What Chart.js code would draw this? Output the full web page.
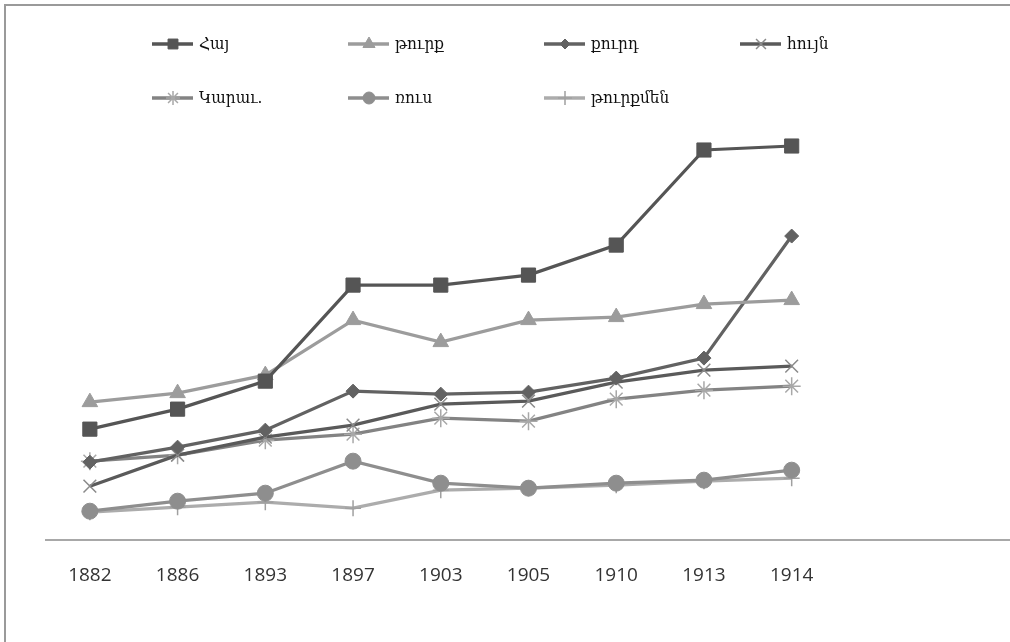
<!DOCTYPE html>
<html>
<head>
<meta charset="utf-8">
<script src="https://cdn.jsdelivr.net/npm/chart.js@4"></script>
<style>
  html,body{margin:0;padding:0;background:#fff;}
  #wrap{position:relative;width:1010px;height:642px;overflow:hidden;}
  #frame{position:absolute;left:4px;top:4px;width:1100px;height:700px;border-top:2px solid #9a9a9a;border-left:2px solid #9a9a9a;}
  canvas{position:absolute;left:0;top:0;}
</style>
</head>
<body>
<div id="wrap">
  <div id="frame"></div>
  <canvas id="c" width="1022" height="642"></canvas>
</div>
<script>
// ============ DATA ============
const years = ['1882','1886','1893','1897','1903','1905','1910','1913','1914'];
const names = ['Հայ','թուրք','քուրդ','հույն','Կարաւ.','ռուս','թուրքմեն'];

const hay      = [111,131,159,255,255,265,295,390,394];
const turq     = [138,147,165,220,198,220,223,236,240];
const qurd     = [ 78, 93,110,149,146,148,162,182,304];
const huyn     = [ 54, 85,103,115,136,139,158,170,174];
const karav    = [ 79, 85,100,106,122,119,141,150,154];
const rus      = [ 29, 39, 47, 79, 57, 52, 57, 60, 70];
const turqmen  = [ 28, 33, 38, 32, 50, 52, 55, 59, 62];

// two empty slots on the right, the plot runs on past the last year
const labels = years.concat(['','']);

const styles = [
  {line:'#555555', fill:'#555555', pt:'rect',      r:10, lr:7},
  {line:'#9c9c9c', fill:'#9c9c9c', pt:'triangle',  r:9,  lr:7},
  {line:'#626262', fill:'#626262', pt:'rectRot',   r:7,  lr:5},
  {line:'#5a5a5a', fill:'#5a5a5a', pt:'crossRot',  r:9,  lr:7, pb:'#8a8a8a'},
  {line:'#838383', fill:'#838383', pt:'star',      r:9,  lr:7, pb:'#a8a8a8'},
  {line:'#8e8e8e', fill:'#8e8e8e', pt:'circle',    r:8,  lr:6},
  {line:'#acacac', fill:'#acacac', pt:'cross',     r:8,  lr:7, pb:'#a0a0a0'}
];
const series = [hay, turq, qurd, huyn, karav, rus, turqmen];

const datasets = series.map((d,i)=>({
  label:names[i], data:d,
  borderColor:styles[i].line, backgroundColor:styles[i].fill, borderWidth:3.2,
  pointStyle:styles[i].pt, pointRadius:styles[i].r,
  pointBackgroundColor:styles[i].fill, pointBorderColor:styles[i].pb||styles[i].fill,
  pointBorderWidth:styles[i].pb?1.5:1, tension:0
}));

// legend laid out in a fixed grid like the original
const legendPos = [[152,44],[348,44],[544,44],[740,44],[152,98],[348,98],[544,98]];
const gridLegend = {
  id:'gridLegend',
  afterDraw(chart){
    const ctx = chart.ctx;
    ctx.save();
    datasets.forEach((ds,i)=>{
      const [x,y] = legendPos[i];
      ctx.strokeStyle = ds.borderColor; ctx.lineWidth = 3.5;
      ctx.beginPath(); ctx.moveTo(x,y); ctx.lineTo(x+41,y); ctx.stroke();
      ctx.fillStyle = ds.pointBackgroundColor; ctx.strokeStyle = ds.pointBorderColor;
      ctx.lineWidth = ds.pointBorderWidth;
      Chart.helpers.drawPoint(ctx,{pointStyle:ds.pointStyle,radius:styles[i].lr,borderWidth:ds.pointBorderWidth},x+21,y);
      ctx.fillStyle = '#111'; ctx.font = '17px "DejaVu Serif Condensed", "DejaVu Serif", serif';
      ctx.textBaseline = 'middle';
      ctx.fillText(ds.label, x+47, y+1);
    });
    ctx.restore();
  }
};

new Chart(document.getElementById('c'), {
  type:'line',
  data:{ labels:labels, datasets:datasets },
  options:{
    responsive:false, animation:false,
    layout:{ padding:{ left:46, right:0, top:120, bottom:31 } },
    plugins:{ legend:{display:false}, tooltip:{enabled:false} },
    scales:{
      x:{ offset:true, grid:{display:false, drawTicks:false},
          border:{display:true, color:'#a8a8a8', width:2},
          ticks:{ color:'#333', padding:24, maxRotation:0, autoSkip:false,
                  font:{ family:'"Open Sans", sans-serif', size:19 } } },
      y:{ display:false, min:0, max:420 }
    }
  },
  plugins:[gridLegend]
});
</script>
</body>
</html>
